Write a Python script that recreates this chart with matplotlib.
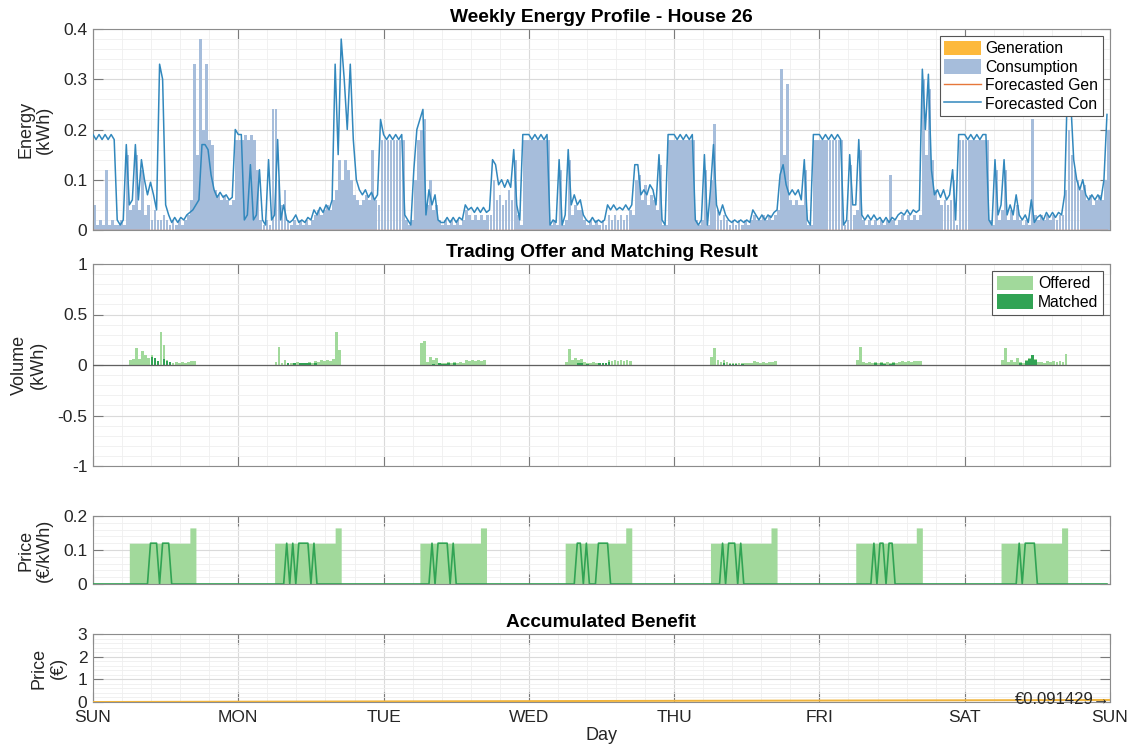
import numpy as np
import matplotlib
matplotlib.use('Agg')
import matplotlib.pyplot as plt
from matplotlib.ticker import MultipleLocator, FuncFormatter, FixedLocator
from matplotlib.patches import Patch
from matplotlib.lines import Line2D

plt.rcParams['font.family'] = ['Liberation Sans', 'DejaVu Sans']
plt.rcParams['axes.unicode_minus'] = False

# ---------------- data (30-min slots, 48 per day) ----------------
DAY_LABELS = ['SUN', 'MON', 'TUE', 'WED', 'THU', 'FRI', 'SAT', 'SUN']
SLOTS_PER_DAY = 48
TRADE_FIRST_SLOT = 12   # 06:00

SUN_F = [.19,.18,.19,.18,.19,.18,.19,.18, .02,.01,.02,.17, .05,.06,.17,.06, .14,.10,.07,.095,
         .07,.04,.33,.30, .05,.03,.015,.025, .015,.025,.02,.03, .035,.04,.05,.06, .17,.17,.16,.11,
         .08,.065,.075,.065, .07,.06,.065,.20]
MON_F = [.19,.19,.02,.03, .13,.02,.03,.12, .02,.01,.14,.02, .03,.18,.02,.05, .02,.015,.02,.03,
         .015,.02,.015,.025, .02,.04,.03,.045, .035,.05,.04,.06, .33,.15,.38,.30, .20,.33,.18,.10,
         .08,.07,.08,.065, .075,.06,.07,.22]
TUE_F = [.19,.18,.19,.18, .19,.18,.19,.03, .02,.01,.12,.20, .22,.24,.03,.08, .05,.07,.02,.015,
         .015,.025,.015,.025, .015,.025,.02,.05, .04,.045,.035,.045, .035,.045,.035,.04, .14,.13,.09,.10,
         .085,.10,.085,.16, .05,.02,.19,.19]
WED_F = [.19,.18,.19,.18, .19,.18,.19,.01, .02,.015,.14,.01, .03,.16,.05,.07, .05,.06,.03,.02,
         .015,.025,.015,.02, .015,.02,.05,.04, .05,.04,.045,.04, .05,.04,.05,.13, .13,.07,.08,.07,
         .09,.08,.05,.15, .02,.01,.19,.19]
THU_F = [.19,.18,.19,.18, .19,.18,.19,.02, .01,.02,.15,.01, .08,.17,.05,.03, .05,.03,.02,.015,
         .02,.015,.02,.015, .02,.015,.04,.03, .02,.03,.02,.03, .025,.035,.04,.11, .13,.09,.07,.08,
         .07,.08,.06,.14, .02,.01,.19,.19]
FRI_F = [.19,.18,.19,.18, .19,.18,.19,.18, .01,.02,.15,.05, .05,.18,.03,.02, .03,.02,.03,.02,
         .025,.015,.025,.015, .025,.02,.03,.035, .03,.04,.03,.04, .035,.04,.32,.20, .31,.12,.07,.08,
         .065,.08,.06,.07, .12,.02,.19,.19]
SAT_F = [.19,.18,.19,.18, .19,.18,.19,.19, .02,.01,.14,.03, .05,.14,.03,.05, .03,.07,.03,.02,
         .03,.015,.06,.015, .025,.03,.02,.035, .025,.035,.025,.035, .03,.07,.30,.26, .14,.10,.08,.10,
         .07,.06,.07,.06, .07,.06,.10,.23]

SUN_C = [.05,.01,.02,.01, .12,.01,.02,.01, .01,.02,.01,.15, .04,.05,.15,.04, .12,.03,.05,.02,
         .04,.02,.02,.03, .02,.01,.02,.01, .02,.01,.02,.03, .06,.33,.15,.38, .20,.33,.18,.17,
         .08,.07,.06,.07, .06,.05,.06,.18]
MON_C = [.18,.18,.19,.18, .19,.18,.12,.02, .01,.02,.01,.24, .24,.10,.05,.08, .02,.01,.02,.01,
         .02,.01,.02,.01, .02,.03,.04,.03, .04,.05,.04,.06, .08,.14,.10,.14, .12,.10,.07,.06,
         .05,.06,.07,.06, .16,.06,.05,.18]
TUE_C = [.18,.18,.18,.18, .18,.18,.18,.02, .01,.02,.10,.18, .20,.22,.05,.10, .04,.05,.02,.01,
         .02,.01,.02,.01, .02,.01,.02,.04, .03,.02,.03,.02, .03,.02,.03,.03, .10,.06,.07,.05,
         .06,.08,.06,.14, .03,.01,.18,.18]
WED_C = [.18,.18,.18,.18, .18,.18,.18,.01, .02,.01,.12,.01, .02,.14,.03,.05, .04,.04,.02,.01,
         .02,.01,.02,.01, .02,.01,.03,.02, .03,.02,.03,.02, .03,.04,.03,.10, .11,.06,.09,.05,
         .07,.06,.04,.13, .01,.01,.18,.18]
THU_C = [.18,.18,.18,.18, .18,.18,.18,.02, .01,.02,.12,.01, .10,.21,.04,.02, .03,.02,.01,.02,
         .01,.02,.01,.02, .01,.02,.03,.02, .02,.03,.02,.03, .02,.03,.04,.32, .15,.29,.06,.05,
         .06,.05,.05,.12, .01,.01,.18,.18]
FRI_C = [.18,.18,.18,.18, .18,.18,.18,.18, .01,.02,.13,.03, .04,.16,.02,.01, .02,.01,.02,.01,
         .02,.01,.02,.11, .02,.01,.02,.03, .02,.03,.02,.03, .02,.03,.30,.15, .28,.14,.08,.06,
         .05,.06,.05,.06, .10,.01,.18,.18]
SAT_C = [.18,.18,.18,.18, .18,.18,.18,.18, .02,.01,.12,.02, .04,.12,.02,.04, .02,.05,.02,.01,
         .02,.01,.22,.03, .02,.03,.02,.03, .02,.03,.02,.03, .03,.08,.20,.15, .12,.10,.08,.09,
         .06,.07,.05,.06, .07,.06,.10,.20]

# trading window (06:00-17:00, 22 slots) per day
SUN_OFF = [.05,.06,.17,.06,.14,.10,.07,.095,.07,.04,.33,.20,.05,.03,.015,.025,.015,.025,.02,.03,.035,.04]
MON_OFF = [.03,.18,.02,.05,.02,.015,.02,.03,.015,.02,.015,.025,.02,.04,.03,.045,.035,.05,.04,.06,.33,.15]
TUE_OFF = [.22,.24,.03,.08,.05,.07,.02,.015,.015,.025,.015,.025,.015,.025,.02,.05,.04,.045,.035,.045,.035,.045]
WED_OFF = [.03,.16,.05,.07,.05,.06,.03,.02,.015,.025,.015,.02,.015,.02,.05,.04,.05,.04,.045,.04,.05,.04]
THU_OFF = [.08,.17,.05,.03,.05,.03,.02,.015,.02,.015,.02,.015,.02,.015,.04,.03,.02,.03,.02,.03,.025,.035]
FRI_OFF = [.05,.18,.03,.02,.03,.02,.03,.02,.025,.015,.025,.015,.025,.02,.03,.035,.03,.04,.03,.04,.035,.04]
SAT_OFF = [.05,.17,.03,.05,.03,.07,.03,.02,.05,.07,.10,.06,.025,.03,.02,.035,.025,.035,.025,.035,.03,.11]

SUN_MAT = [0,0,0,0,0,0,0,.08,.07,.04,0,.06,.04,.03,0,0,0,0,0,0,0,0]
MON_MAT = [0,0,0,0,.015,0,.02,0,.015,.02,.015,.02,0,.02,0,0,0,0,0,0,0,0]
TUE_MAT = [0,0,0,0,.01,0,.015,.01,.01,.015,0,.02,0,0,0,0,0,0,0,0,0,0]
WED_MAT = [0,0,0,0,.02,.02,0,.01,0,0,0,.015,.015,.02,.03,0,0,0,0,0,0,0]
THU_MAT = [0,0,0,0,.02,0,.01,.01,.01,0,.01,0,0,0,0,0,0,0,0,0,0,0]
FRI_MAT = [0,0,0,0,0,0,.015,0,.015,.01,0,.01,.015,0,0,0,0,0,0,0,0,0]
SAT_MAT = [0,0,0,0,0,0,.02,0,.04,.06,.10,.05,0,0,0,0,0,0,0,0,0,0]

OFFER_PRICE = [.12,.12,.12,.12,.12,.12,.12,.12,.12,.12,.12,.12,.12,.12,.12,.12,.12,.12,.12,.12,.165,.165]

SUN_MP = [0,0,0,0,0,0,0,.12,.12,.12,0,.12,.12,.12,0,0,0,0,0,0,0,0]
MON_MP = [0,0,0,0,.12,0,.12,0,.12,.12,.12,.12,0,.12,0,0,0,0,0,0,0,0]
TUE_MP = [0,0,0,0,.12,0,.12,.12,.12,.12,0,.12,0,0,0,0,0,0,0,0,0,0]
WED_MP = [0,0,0,0,.12,.12,0,.12,0,0,0,.12,.12,.12,.12,0,0,0,0,0,0,0]
THU_MP = [0,0,0,0,.12,0,.12,.12,.12,0,.12,0,0,0,0,0,0,0,0,0,0,0]
FRI_MP = [0,0,0,0,0,0,.12,0,.12,.12,0,.12,.12,0,0,0,0,0,0,0,0,0]
SAT_MP = [0,0,0,0,0,0,.12,0,.12,.12,.12,.12,0,0,0,0,0,0,0,0,0,0]

BENEFIT_DAYS = [0, 1, 2, 3, 4, 5, 6, 7]
BENEFIT = [0.0, 0.015, 0.027, 0.039, 0.052, 0.064, 0.076, 0.091429]
BENEFIT_TEXT = '€0.091429→'

# ---------------- assemble week series ----------------
FORECAST_CON = SUN_F + MON_F + TUE_F + WED_F + THU_F + FRI_F + SAT_F
CONSUMPTION = SUN_C + MON_C + TUE_C + WED_C + THU_C + FRI_C + SAT_C
n = len(FORECAST_CON)
t = np.arange(n) / SLOTS_PER_DAY
GENERATION = np.zeros(n)
FORECAST_GEN = np.zeros(n)


def week_from_window(day_lists):
    out = np.zeros(n)
    for d, vals in enumerate(day_lists):
        s = d * SLOTS_PER_DAY + TRADE_FIRST_SLOT
        out[s:s + len(vals)] = vals
    return out


offered = week_from_window([SUN_OFF, MON_OFF, TUE_OFF, WED_OFF, THU_OFF, FRI_OFF, SAT_OFF])
matched = week_from_window([SUN_MAT, MON_MAT, TUE_MAT, WED_MAT, THU_MAT, FRI_MAT, SAT_MAT])
offer_price = week_from_window([OFFER_PRICE] * 7)
matched_price = week_from_window([SUN_MP, MON_MP, TUE_MP, WED_MP, THU_MP, FRI_MP, SAT_MP])

# ---------------- colours ----------------
C_CONS = '#a6bddb'
C_FCON = '#3288bd'
C_GEN = '#fdb93c'
C_FGEN = '#e6773a'
C_OFF = '#a1d99b'
C_MAT = '#31a354'
C_BEN = '#f0b43c'
TXT = '#262626'

fig = plt.figure(figsize=(11.29, 7.54), dpi=100)
L, W = 93 / 1129, 1017 / 1129


def add_ax(top_px, bot_px):
    return fig.add_axes([L, 1 - bot_px / 754, W, (bot_px - top_px) / 754])


ax1 = add_ax(29, 230)
ax2 = add_ax(264, 466)
ax3 = add_ax(516, 584)
ax4 = add_ax(634, 702)

fmt = FuncFormatter(lambda v, p: ('%g' % round(v, 6)))


def style(ax, ylim, ymaj, ymin, show_x=False):
    ax.set_xlim(0, 7)
    ax.set_ylim(*ylim)
    ax.xaxis.set_major_locator(FixedLocator(list(range(len(DAY_LABELS)))))
    ax.xaxis.set_minor_locator(MultipleLocator(0.2))
    ax.yaxis.set_major_locator(MultipleLocator(ymaj))
    ax.yaxis.set_minor_locator(MultipleLocator(ymin))
    ax.yaxis.set_major_formatter(fmt)
    ax.grid(which='major', color='#dadada', lw=0.8)
    ax.grid(which='minor', color='#efefef', lw=0.6)
    ax.set_axisbelow(True)
    ax.tick_params(which='both', direction='in', top=True, right=True,
                   labelsize=12.5, labelcolor=TXT)
    ax.tick_params(axis='y', pad=4)
    ax.tick_params(axis='x', pad=6)
    ax.tick_params(which='major', length=7, width=0.8, color='#7a7a7a')
    ax.tick_params(which='minor', length=0)
    for s in ax.spines.values():
        s.set_color('#8c8c8c')
        s.set_linewidth(0.8)
    if show_x:
        ax.set_xticklabels(DAY_LABELS)
    else:
        ax.tick_params(labelbottom=False)


LBL = dict(fontsize=13, color=TXT, linespacing=1.15)

# ---- plot 1 ----
ax1.bar(t, GENERATION, width=1 / SLOTS_PER_DAY, align='edge', color=C_GEN, lw=0, zorder=2)
ax1.bar(t, CONSUMPTION, width=0.92 / SLOTS_PER_DAY, align='edge', color=C_CONS, lw=0, zorder=2)
ax1.plot(t, FORECAST_GEN, color=C_FGEN, lw=1.0, zorder=3)
ax1.plot(t, FORECAST_CON, color=C_FCON, lw=1.1, zorder=4)
style(ax1, (0, 0.4), 0.1, 0.02)
ax1.set_title('Weekly Energy Profile - House 26', fontsize=13.8, fontweight='bold', pad=5)
ax1.set_ylabel('Energy\n(kWh)', **LBL)
ax1.yaxis.set_label_coords(-0.039, 0.5)
h1 = [Patch(facecolor=C_GEN, edgecolor='none', label='Generation'),
      Patch(facecolor=C_CONS, edgecolor='none', label='Consumption'),
      Line2D([], [], color=C_FGEN, lw=1.0, label='Forecasted Gen'),
      Line2D([], [], color=C_FCON, lw=1.1, label='Forecasted Con')]
lg = ax1.legend(handles=h1, loc='upper right', fontsize=11.3, frameon=True, fancybox=False,
                framealpha=1, edgecolor='#555555', borderaxespad=0.45, handlelength=2.3,
                handleheight=1.05, handletextpad=0.3, labelspacing=0.18, borderpad=0.3)
lg.get_frame().set_linewidth(0.8)
lg.set_zorder(10)

# ---- plot 2 ----
ax2.bar(t, offered, width=0.92 / SLOTS_PER_DAY, align='edge', color=C_OFF, lw=0, zorder=2)
ax2.bar(t, matched, width=0.92 / SLOTS_PER_DAY, align='edge', color=C_MAT, lw=0, zorder=3)
ax2.axhline(0, color='#606060', lw=0.9, zorder=4)
style(ax2, (-1, 1), 0.5, 0.1)
ax2.set_title('Trading Offer and Matching Result', fontsize=13.8, fontweight='bold', pad=5)
ax2.set_ylabel('Volume\n(kWh)', **LBL)
ax2.yaxis.set_label_coords(-0.045, 0.5)
h2 = [Patch(facecolor=C_OFF, edgecolor='none', label='Offered'),
      Patch(facecolor=C_MAT, edgecolor='none', label='Matched')]
lg2 = ax2.legend(handles=h2, loc='upper right', fontsize=11.3, frameon=True, fancybox=False,
                 framealpha=1, edgecolor='#555555', borderaxespad=0.45, handlelength=2.3,
                 handleheight=1.05, handletextpad=0.3, labelspacing=0.18, borderpad=0.3)
lg2.get_frame().set_linewidth(0.8)

# ---- plot 3 ----
t_edge = np.append(t, 7.0)
ax3.fill_between(t_edge, np.append(offer_price, 0), step='post', color=C_OFF, lw=0, zorder=2)
ax3.plot(t, matched_price, color=C_MAT, lw=1.2, zorder=3)
style(ax3, (0, 0.2), 0.1, 0.02)
ax3.set_ylabel('Price\n(€/kWh)', **LBL)
ax3.yaxis.set_label_coords(-0.039, 0.5)

# ---- plot 4 ----
ax4.plot(BENEFIT_DAYS, BENEFIT, color=C_BEN, lw=1.4, zorder=3)
style(ax4, (0, 3), 1, 0.2, show_x=True)
ax4.set_title('Accumulated Benefit', fontsize=13.8, fontweight='bold', pad=5)
ax4.set_ylabel('Price\n(€)', **LBL)
ax4.yaxis.set_label_coords(-0.026, 0.5)
ax4.set_xlabel('Day', fontsize=13, color=TXT, labelpad=1)
ax4.text(BENEFIT_DAYS[-1], BENEFIT[-1], BENEFIT_TEXT, ha='right', va='center',
         fontsize=12, color=TXT, zorder=5)

fig.savefig('out.png', dpi=100)
